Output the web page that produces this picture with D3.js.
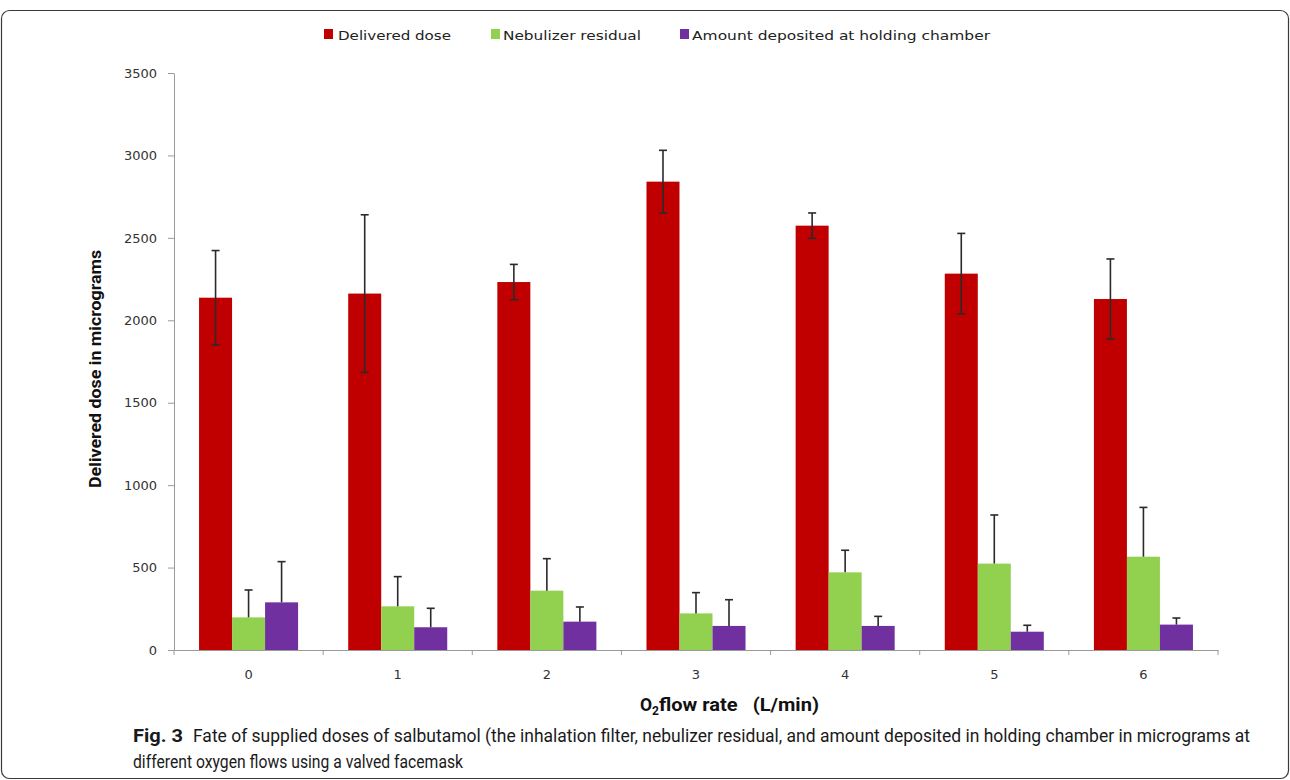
<!DOCTYPE html>
<html>
<head>
<meta charset="utf-8">
<script src="https://cdn.jsdelivr.net/npm/d3@7/dist/d3.min.js"></script>
<style>
  html, body { margin: 0; padding: 0; background: #fff; }
  svg { display: block; }
</style>
</head>
<body>
<svg id="chart" width="1290" height="780"></svg>
<script>
// ---- data ----
const categories = ["0", "1", "2", "3", "4", "5", "6"];
const seriesNames = ["Delivered dose", "Nebulizer residual", "Amount deposited at holding chamber"];
const deliveredDose = [2137, 2162, 2232, 2841, 2574, 2283, 2129];
const deliveredErr = [286, 478, 107, 190, 77, 244, 243];
const nebulizerResidual = [198, 265, 360, 222, 471, 524, 566];
const nebulizerErr = [166, 180, 194, 126, 134, 295, 299];
const depositedChamber = [289, 138, 172, 146, 146, 111, 154];
const depositedErr = [247, 115, 89, 159, 58, 39, 40];
const yTicks = [0, 500, 1000, 1500, 2000, 2500, 3000, 3500];

const colors = ["#C00000", "#92D050", "#7030A0"];
const values = [deliveredDose, nebulizerResidual, depositedChamber];
const errs = [deliveredErr, nebulizerErr, depositedErr];
const bothDir = [true, false, false];

const svg = d3.select("#chart");

// frame
svg.append("rect").attr("x", 1.5).attr("y", 10.5).attr("width", 1287).attr("height", 768)
  .attr("rx", 8).attr("fill", "none").attr("stroke", "#3a3a3a").attr("stroke-width", 1.2);

const plotLeft = 174, plotRight = 1218, plotTop = 73, plotBottom = 650;

const x0 = d3.scaleBand().domain(categories).range([plotLeft, plotRight]).paddingInner(0.336).paddingOuter(0.168);
const x1 = d3.scaleBand().domain([0, 1, 2]).range([0, x0.bandwidth()]);
const y = d3.scaleLinear().domain([0, 3500]).range([plotBottom, plotTop]);

// bars
const rows = [];
categories.forEach((c, i) => {
  for (let s = 0; s < 3; s++) rows.push({ c, s, v: values[s][i], e: errs[s][i] });
});

svg.append("g").selectAll("rect").data(rows).join("rect")
  .attr("x", d => x0(d.c) + x1(d.s))
  .attr("y", d => y(d.v))
  .attr("width", x1.bandwidth())
  .attr("height", d => y(0) - y(d.v))
  .attr("fill", d => colors[d.s]);

// error bars
const eg = svg.append("g").attr("stroke", "#2a2a2a").attr("stroke-width", 1.6);
rows.forEach(d => {
  const cx = x0(d.c) + x1(d.s) + x1.bandwidth() / 2;
  const yTop = y(d.v + d.e);
  const yBot = bothDir[d.s] ? y(d.v - d.e) : y(d.v);
  eg.append("line").attr("x1", cx).attr("x2", cx).attr("y1", yTop).attr("y2", yBot);
  eg.append("line").attr("x1", cx - 4).attr("x2", cx + 4).attr("y1", yTop).attr("y2", yTop);
  if (bothDir[d.s]) eg.append("line").attr("x1", cx - 4).attr("x2", cx + 4).attr("y1", yBot).attr("y2", yBot);
});

// y axis
const yAxis = d3.axisLeft(y).tickValues(yTicks).tickFormat(d3.format("d")).tickSize(6).tickPadding(11).tickSizeOuter(0);
const gy = svg.append("g").attr("transform", `translate(${plotLeft},0)`).call(yAxis);
gy.select(".domain").attr("stroke", "#9a9a9a");
gy.selectAll(".tick line").attr("stroke", "#9a9a9a");
gy.selectAll(".tick text").attr("font-family", "DejaVu Sans, Verdana, sans-serif").attr("font-size", 13).attr("fill", "#333");

// x axis
const xAxis = d3.axisBottom(x0).tickSize(0).tickPadding(20).tickSizeOuter(0);
const gx = svg.append("g").attr("transform", `translate(0,${plotBottom})`).call(xAxis);
gx.select(".domain").attr("stroke", "#9a9a9a");
gx.selectAll(".tick text").attr("font-family", "DejaVu Sans, Verdana, sans-serif").attr("font-size", 13).attr("fill", "#333");
// boundary tick marks
const bounds = categories.map(c => x0(c) - x0.step() * x0.paddingInner() / 2).concat([plotRight]);
gx.append("g").selectAll("line").data(bounds).join("line")
  .attr("x1", d => d).attr("x2", d => d).attr("y1", 0).attr("y2", 5)
  .attr("stroke", "#9a9a9a");

// y title
svg.append("text")
  .attr("transform", `translate(101,${(250 + 488) / 2}) rotate(-90)`)
  .attr("text-anchor", "middle")
  .attr("font-family", "Liberation Sans Narrow, Roboto, Arial, sans-serif")
  .attr("font-weight", "bold").attr("font-size", 16).attr("fill", "#111")
  .attr("textLength", 238).attr("lengthAdjust", "spacingAndGlyphs")
  .text("Delivered dose in micrograms");

// x title
const xt = svg.append("text").attr("x", 640).attr("y", 711)
  .attr("font-family", "Liberation Sans Narrow, Roboto, Arial, sans-serif")
  .attr("font-weight", "bold").attr("font-size", 17.5).attr("fill", "#111")
  .style("white-space", "pre");
xt.append("tspan").text("O");
xt.append("tspan").attr("dy", 4).attr("font-size", 12).text("2");
xt.append("tspan").attr("dy", -4).attr("textLength", 160).attr("lengthAdjust", "spacingAndGlyphs").text("flow rate\u00a0\u00a0 (L/min)");

// legend
const legendItems = [
  { x: 324, tx: 338, w: 113 },
  { x: 491, tx: 503, w: 138 },
  { x: 680, tx: 692, w: 298 }
];
const lg = svg.append("g");
legendItems.forEach((it, i) => {
  lg.append("rect").attr("x", it.x).attr("y", 29).attr("width", 9).attr("height", 10).attr("fill", colors[i]);
  lg.append("text").attr("x", it.tx).attr("y", 39.5)
    .attr("font-family", "DejaVu Sans, Verdana, sans-serif").attr("font-size", 13).attr("fill", "#222")
    .attr("textLength", it.w).attr("lengthAdjust", "spacingAndGlyphs")
    .text(seriesNames[i]);
});

// caption
const capFont = "Liberation Sans Narrow, Roboto, Noto Sans, sans-serif";
svg.append("text").attr("x", 133).attr("y", 742).attr("font-family", capFont)
  .attr("font-weight", "bold").attr("font-size", 18).attr("fill", "#1a1a1a")
  .attr("textLength", 50).attr("lengthAdjust", "spacingAndGlyphs").text("Fig. 3");
svg.append("text").attr("x", 193).attr("y", 742).attr("font-family", capFont)
  .attr("font-size", 18).attr("fill", "#1a1a1a")
  .attr("textLength", 1057).attr("lengthAdjust", "spacingAndGlyphs")
  .text("Fate of supplied doses of salbutamol (the inhalation filter, nebulizer residual, and amount deposited in holding chamber in micrograms at");
svg.append("text").attr("x", 133).attr("y", 768).attr("font-family", capFont)
  .attr("font-size", 18).attr("fill", "#1a1a1a")
  .attr("textLength", 330).attr("lengthAdjust", "spacingAndGlyphs")
  .text("different oxygen flows using a valved facemask");
</script>
</body>
</html>
